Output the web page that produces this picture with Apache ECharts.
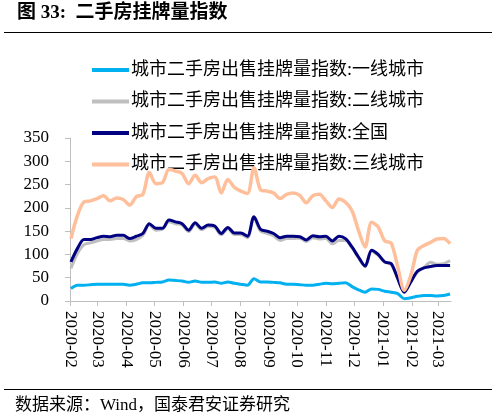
<!DOCTYPE html>
<html>
<head>
<meta charset="utf-8">
<script src="https://cdn.jsdelivr.net/npm/echarts@6/dist/echarts.min.js"></script>
<style>
html,body{margin:0;padding:0;background:#fff;}
#main{width:492px;height:413px;}
</style>
</head>
<body>
<div id="main"></div>
<script>
var titleText = '图 33:  二手房挂牌量指数';
var sourceText = '数据来源：Wind，国泰君安证券研究';
var seriesNames = ['城市二手房出售挂牌量指数:一线城市','城市二手房出售挂牌量指数:二线城市','城市二手房出售挂牌量指数:全国','城市二手房出售挂牌量指数:三线城市'];
var dates = ['2020-02-02','2020-02-09','2020-02-16','2020-02-23','2020-03-01','2020-03-08','2020-03-15','2020-03-22','2020-03-29','2020-04-05','2020-04-12','2020-04-19','2020-04-26','2020-05-03','2020-05-10','2020-05-17','2020-05-24','2020-05-31','2020-06-07','2020-06-14','2020-06-21','2020-06-28','2020-07-05','2020-07-12','2020-07-19','2020-07-26','2020-08-02','2020-08-09','2020-08-16','2020-08-23','2020-08-30','2020-09-06','2020-09-13','2020-09-20','2020-09-27','2020-10-04','2020-10-11','2020-10-18','2020-10-25','2020-11-01','2020-11-08','2020-11-15','2020-11-22','2020-11-29','2020-12-06','2020-12-13','2020-12-20','2020-12-27','2021-01-03','2021-01-10','2021-01-17','2021-01-24','2021-01-31','2021-02-07','2021-02-14','2021-02-21','2021-02-28','2021-03-07','2021-03-14'];
var tier1 = [27,34,34,35,36,36,36,36,36,34,36,39,39,40,41,45,44,43,40,43,40,40,41,38,41,38,36,34,48,41,41,40,39,36,36,35,34,34,36,38,37,38,39,31,24,19,26,25,21,19,16,5,7,10,12,12,11,12,15];
var tier2 = [70,102,121,125,129,132,132,134,134,129,132,141,163,152,154,170,166,163,149,165,153,160,158,142,155,143,143,136,178,150,145,140,130,134,134,135,128,136,133,134,123,130,130,114,93,74,107,98,83,79,48,20,44,62,72,83,79,80,87];
var national = [84,113,132,132,136,139,138,141,141,134,139,145,166,156,156,174,170,166,152,168,156,163,161,145,158,146,146,139,181,154,150,145,136,139,139,138,131,140,138,139,129,139,134,116,94,75,109,100,84,80,48,19,41,64,71,74,76,76,76];
var tier3 = [134,184,213,215,220,226,215,221,218,206,224,229,276,252,254,283,279,274,252,270,254,263,266,232,261,244,236,231,286,239,236,232,220,229,232,227,211,226,229,215,201,219,212,194,151,116,169,159,129,124,73,23,55,109,119,126,133,134,123];
var yTicks = {min: 0, max: 350, interval: 50};
var xRange = {min: '2020-02-01', max: '2021-03-15'};

function pairs(vals){ return dates.map(function(d,i){ return [d, vals[i]]; }); }

var colors = ['#00B0F0','#BFBFBF','#000080','#FFBF9B'];
var allVals = [tier1, tier2, national, tier3];

var chart = echarts.init(document.getElementById('main'), null, {renderer:'canvas'});
var serif = '"Liberation Serif","Noto Sans CJK SC",serif';
var option = {
  animation: false,
  backgroundColor: '#ffffff',
  grid: {left: 70, right: 41, top: 138, bottom: 112, containLabel: false},
  legend: {
    orient: 'vertical', left: 87, top: 56,
    icon: 'rect',
    itemWidth: 37, itemHeight: 4, itemGap: 13.5,
    textStyle: {fontSize: 18, color: '#000', fontFamily: serif, padding: [0,0,0,-3]},
    data: seriesNames
  },
  xAxis: {
    type: 'time', min: xRange.min, max: xRange.max,
    minInterval: 28*86400000, maxInterval: 31*86400000,
    splitNumber: 14,
    axisLine: {show: true, lineStyle: {color: '#BFBFBF', width: 1}},
    axisTick: {show: true, length: 5, lineStyle: {color: '#BFBFBF'}},
    splitLine: {show: false},
    axisLabel: {
      rotate: -90, margin: 10, color: '#000', fontSize: 17, fontFamily: serif,
      showMaxLabel: false,
      formatter: function(v){ return echarts.time.format(v, '{yyyy}-{MM}', false); }
    }
  },
  yAxis: {
    type: 'value', min: yTicks.min, max: yTicks.max, interval: yTicks.interval,
    axisLine: {show: true, lineStyle: {color: '#BFBFBF', width: 1}},
    axisTick: {show: true, length: 5, lineStyle: {color: '#BFBFBF'}},
    splitLine: {show: false},
    axisLabel: {color: '#000', fontSize: 17, fontFamily: serif, margin: 21}
  },
  graphic: [
    {type: 'text', left: 17, top: 4, style: {text: titleText, fontSize: 19, fontWeight: 'bold', fontFamily: serif, fill: '#000'}},
    {type: 'line', shape: {x1: 4, y1: 32.5, x2: 492, y2: 32.5}, style: {stroke: '#000', lineWidth: 1}},
    {type: 'line', shape: {x1: 4, y1: 389.5, x2: 492, y2: 389.5}, style: {stroke: '#000', lineWidth: 1}},
    {type: 'text', left: 15, top: 397, style: {text: sourceText, fontSize: 17, fontFamily: serif, fill: '#000'}}
  ],
  series: seriesNames.map(function(n, k){
    return {
      name: n, type: 'line', data: pairs(allVals[k]),
      symbol: 'none', smooth: 0.3,
      lineStyle: {color: colors[k], width: k === 3 ? 3.5 : 3},
      itemStyle: {color: colors[k]},
      z: 2 + k
    };
  })
};
chart.setOption(option);
</script>
</body>
</html>
